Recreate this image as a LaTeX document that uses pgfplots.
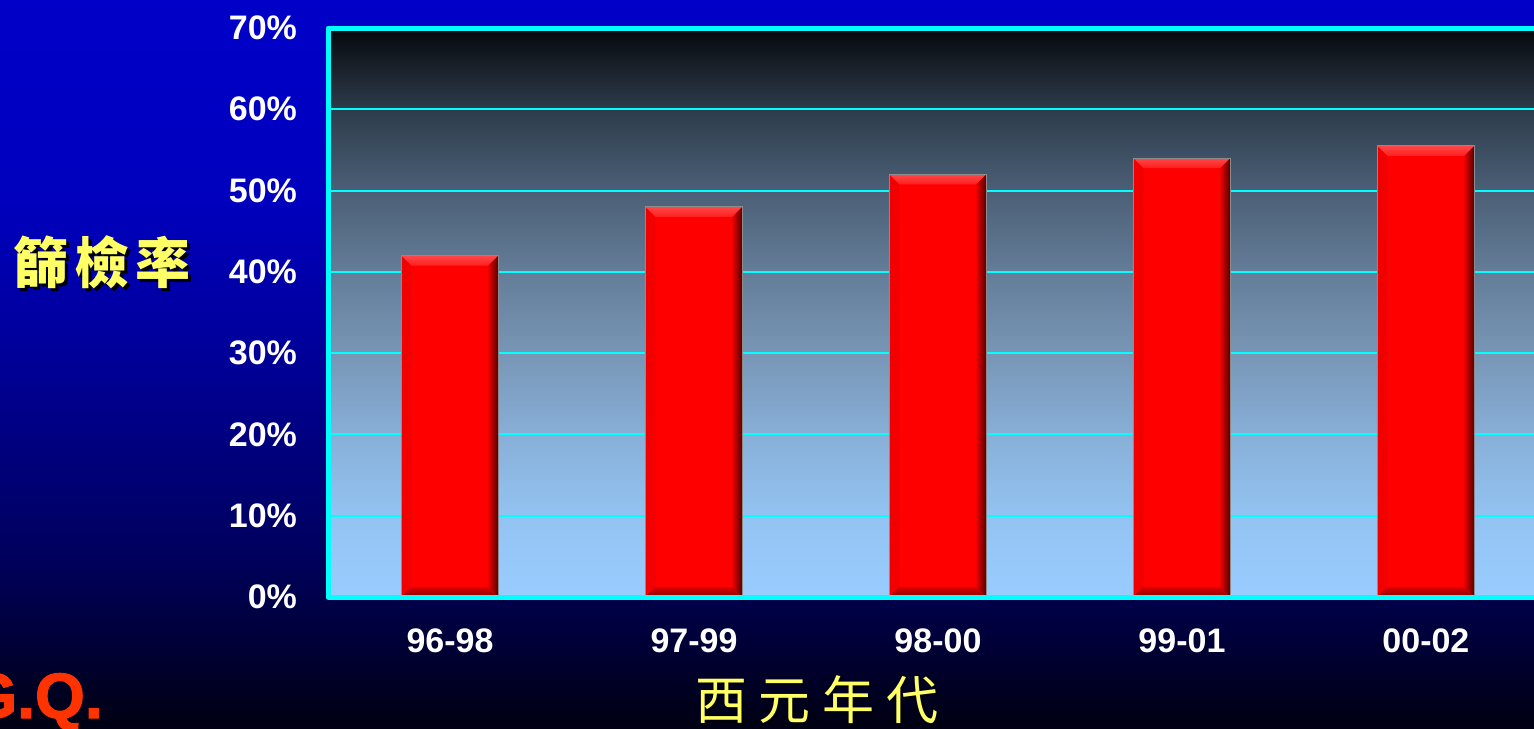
\documentclass[border=0pt]{standalone}
\usepackage{pgfplots}
\pgfplotsset{compat=1.18}
\usepackage{fontspec}
\setmainfont{Liberation Sans}
\newfontfamily\heavy{Liberation Sans}[BoldFeatures={FakeBold=2}]
\newfontfamily\cjk{Noto Sans CJK TC}
\definecolor{bgA}{RGB}{0,0,18}
\definecolor{bgB}{RGB}{0,0,95}
\definecolor{bgC}{RGB}{0,0,150}
\definecolor{bgD}{RGB}{0,0,190}
\definecolor{bgE}{RGB}{0,0,200}
\definecolor{pg0}{RGB}{153,204,255}
\definecolor{pg1}{RGB}{147,195,242}
\definecolor{pg2}{RGB}{136,175,215}
\definecolor{pg3}{RGB}{120,150,182}
\definecolor{pg4}{RGB}{100,125,152}
\definecolor{pg5}{RGB}{75,95,118}
\definecolor{pg6}{RGB}{45,60,75}
\definecolor{pg7}{RGB}{5,8,12}
\definecolor{cyanline}{RGB}{0,255,255}
\definecolor{labyellow}{RGB}{255,255,102}
\definecolor{gqred}{RGB}{255,51,0}
\pgfdeclareverticalshading{pagebg}{100bp}{color(0bp)=(bgA); color(25bp)=(bgA); color(37.2bp)=(bgB); color(50bp)=(bgC); color(61.3bp)=(bgD); color(75bp)=(bgE); color(100bp)=(bgE)}
\pgfdeclareverticalshading{plotbg}{100bp}{color(0bp)=(pg0); color(25bp)=(pg0); color(32.14bp)=(pg1); color(39.29bp)=(pg2); color(46.43bp)=(pg3); color(53.57bp)=(pg4); color(60.71bp)=(pg5); color(67.86bp)=(pg6); color(75bp)=(pg7); color(100bp)=(pg7)}
\tikzset{nopp/.style={path picture={}, draw=none}}
\pgfplotsset{barsty/.style={fill=red, draw=black!45, line width=0.4pt, bar shift=0pt,
  path picture={
    \fill[nopp, red!95!black] (path picture bounding box.north west) -- ([shift={(5pt,-5pt)}]path picture bounding box.north west) -- ([shift={(5pt,5pt)}]path picture bounding box.south west) -- (path picture bounding box.south west) -- cycle;
    \shade[nopp, top color=red!72!white, bottom color=red!88!white] (path picture bounding box.north west) -- (path picture bounding box.north east) -- ([shift={(-5pt,-5pt)}]path picture bounding box.north east) -- ([shift={(5pt,-5pt)}]path picture bounding box.north west) -- cycle;
    \shade[nopp, top color=red!85!black, bottom color=red!55!black] (path picture bounding box.south west) -- (path picture bounding box.south east) -- ([shift={(-5pt,5pt)}]path picture bounding box.south east) -- ([shift={(5pt,5pt)}]path picture bounding box.south west) -- cycle;
    \shade[nopp, left color=red!90!black, right color=red!30!black] (path picture bounding box.north east) -- ([shift={(-5pt,-5pt)}]path picture bounding box.north east) -- ([shift={(-5pt,5pt)}]path picture bounding box.south east) -- (path picture bounding box.south east) -- cycle;
  }}}
\begin{document}
\begin{tikzpicture}
\useasboundingbox (0,0) rectangle (767pt,364pt);
\clip (0,0) rectangle (767pt,364pt);
\shade[shading=pagebg] (0,0) rectangle (767pt,364pt);
\begin{axis}[
  at={(164pt,65.5pt)}, anchor=south west,
  scale only axis, width=603pt, height=284.5pt,
  xmin=-0.5, xmax=4.443, ymin=0, ymax=70,
  ybar, bar width=48.5pt,
  xtick={0,1,2,3,4},
  xticklabels={96-98,97-99,98-00,99-01,00-02},
  ytick={0,10,20,30,40,50,60,70},
  yticklabels={0\%,10\%,20\%,30\%,40\%,50\%,60\%,70\%},
  major tick length=0pt,
  tick label style={font=\fontsize{17}{20}\selectfont\bfseries, text=white},
  yticklabel style={xshift=-12pt},
  xticklabel style={yshift=-12.5pt},
  ymajorgrids, grid style={cyanline, line width=1pt},
  axis line style={draw=none},
  axis background/.style={shade, shading=plotbg},
  after end axis/.code={\draw[cyanline, line width=2.5pt, line join=round] (rel axis cs:1,1) -- (rel axis cs:0,1) -- (rel axis cs:0,0) -- (rel axis cs:1,0);},
]
\addplot[barsty] coordinates {(0,42)};
\addplot[barsty] coordinates {(1,48)};
\addplot[barsty] coordinates {(2,52)};
\addplot[barsty] coordinates {(3,54)};
\addplot[barsty] coordinates {(4,55.5)};
\end{axis}
% y label
\node[text=black, font=\cjk\bfseries\fontsize{27.5}{30}\selectfont] at (52.5pt,231.5pt) {篩\hspace{3pt}檢\hspace{3pt}率};
\node[text=labyellow, font=\cjk\bfseries\fontsize{27.5}{30}\selectfont] at (51pt,233pt) {篩\hspace{3pt}檢\hspace{3pt}率};
% x label
\node[text=black, font=\cjk\fontsize{26}{30}\selectfont] at (409.5pt,13pt) {西\hspace{6pt}元\hspace{6pt}年\hspace{6pt}代};
\node[text=labyellow, font=\cjk\fontsize{26}{30}\selectfont] at (408.5pt,14pt) {西\hspace{6pt}元\hspace{6pt}年\hspace{6pt}代};
% corner mark
\node[anchor=base east, inner sep=0pt, text=gqred, font=\heavy\bfseries\fontsize{32}{36}\selectfont] at (51.5pt,5pt) {G.Q.};
\end{tikzpicture}
\end{document}
